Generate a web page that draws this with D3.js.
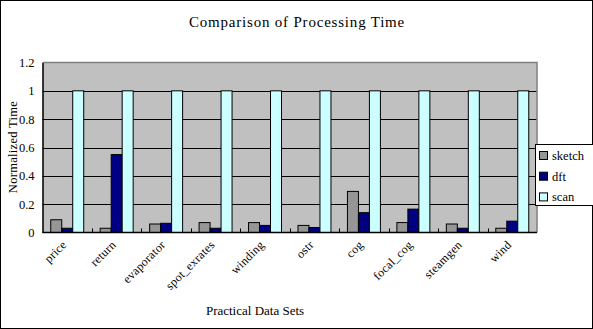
<!DOCTYPE html>
<html>
<head>
<meta charset="utf-8">
<script src="https://cdn.jsdelivr.net/npm/d3@7"></script>
<style>
  html, body { margin: 0; padding: 0; background: #fff; }
  svg { display: block; }
  text { font-family: "Liberation Serif", "Times New Roman", serif; fill: #000; }
</style>
</head>
<body>
<svg id="chart" width="593" height="329"></svg>
<script>
// Data sets and normalized processing times
const categories = ["price", "return", "evaporator", "spot_exrates", "winding", "ostr", "cog", "focal_cog", "steamgen", "wind"];
const seriesNames = ["sketch", "dft", "scan"];
const sketchValues = [0.09, 0.03, 0.06, 0.07, 0.07, 0.05, 0.29, 0.07, 0.06, 0.03];
const dftValues = [0.03, 0.55, 0.065, 0.03, 0.05, 0.035, 0.14, 0.165, 0.03, 0.08];
const scanValues = [1, 1, 1, 1, 1, 1, 1, 1, 1, 1];
const yTicks = [0, 0.2, 0.4, 0.6, 0.8, 1, 1.2];

const colors = { sketch: "#969696", dft: "#000080", scan: "#CCFFFF" };
const seriesValues = { sketch: sketchValues, dft: dftValues, scan: scanValues };

const svg = d3.select("#chart");
const W = 593, H = 329;
const plot = { left: 42.5, right: 537, top: 62.5, bottom: 232.5 };

// Outer chart frame
svg.append("rect")
  .attr("x", 0.5).attr("y", 0.5)
  .attr("width", W - 1).attr("height", H - 1)
  .attr("fill", "#fff").attr("stroke", "#000").attr("stroke-width", 1);

const x = d3.scaleBand().domain(categories).range([plot.left, plot.right]).padding(0);
// 150% gap width between category groups
const barW = x.bandwidth() / 4.5;
const xInner = d3.scaleBand().domain(seriesNames)
  .range([0.75 * barW, 0.75 * barW + 3 * barW]).padding(0);
const y = d3.scaleLinear().domain([0, 1.2]).range([plot.bottom, plot.top]);

// Plot area background
svg.append("rect")
  .attr("x", plot.left).attr("y", plot.top)
  .attr("width", plot.right - plot.left).attr("height", plot.bottom - plot.top)
  .attr("fill", "#C0C0C0");

// Horizontal gridlines
svg.append("g")
  .selectAll("line")
  .data(yTicks.filter(t => t > 0 && t < 1.2))
  .join("line")
  .attr("x1", plot.left).attr("x2", plot.right)
  .attr("y1", d => Math.round(y(d)) + 0.5).attr("y2", d => Math.round(y(d)) + 0.5)
  .attr("stroke", "#000").attr("stroke-width", 1);

// Plot area outline (top and right)
svg.append("path")
  .attr("d", `M${plot.left},${plot.top}H${plot.right}V${plot.bottom}`)
  .attr("fill", "none").attr("stroke", "#808080").attr("stroke-width", 1.5);

// Bars
const groups = svg.append("g").selectAll("g")
  .data(categories)
  .join("g")
  .attr("transform", d => `translate(${x(d)},0)`);

groups.selectAll("rect")
  .data((c, i) => seriesNames.map(s => ({ s, v: seriesValues[s][i] })))
  .join("rect")
  .attr("x", d => xInner(d.s))
  .attr("y", d => y(d.v))
  .attr("width", xInner.bandwidth())
  .attr("height", d => y(0) - y(d.v))
  .attr("fill", d => colors[d.s])
  .attr("stroke", "#000").attr("stroke-width", 1);

// Y axis
const yAxis = d3.axisLeft(y).tickValues(yTicks).tickSize(0).tickPadding(8)
  .tickFormat(d => d === 0 ? "0" : d === 1 ? "1" : d3.format(".1f")(d));
const yg = svg.append("g").attr("transform", `translate(${plot.left},0)`).call(yAxis);
yg.select(".domain").attr("stroke", "#000").attr("stroke-width", 1.5);
yg.selectAll("text").attr("font-size", 12.5).attr("font-family", "Liberation Serif, serif");

// X axis with inward ticks at category boundaries
const xg = svg.append("g").attr("transform", `translate(0,${plot.bottom})`);
xg.append("line")
  .attr("x1", plot.left).attr("x2", plot.right)
  .attr("y1", 0).attr("y2", 0)
  .attr("stroke", "#000").attr("stroke-width", 1.5);
xg.selectAll("line.tick")
  .data(categories.slice(1))
  .join("line")
  .attr("class", "tick")
  .attr("x1", d => Math.round(x(d)) + 0.5).attr("x2", d => Math.round(x(d)) + 0.5)
  .attr("y1", 0).attr("y2", -4)
  .attr("stroke", "#000").attr("stroke-width", 1);

xg.selectAll("text.cat")
  .data(categories)
  .join("text")
  .attr("class", "cat")
  .attr("font-size", 12)
  .attr("letter-spacing", 0.3)
  .attr("text-anchor", "end")
  .attr("transform", d => `translate(${x(d) + x.bandwidth() / 2},${13}) rotate(-45)`)
  .text(d => d);

// Titles
svg.append("text")
  .attr("x", 297).attr("y", 27)
  .attr("text-anchor", "middle").attr("font-size", 15)
  .attr("letter-spacing", 0.8)
  .text("Comparison of Processing Time");

svg.append("text")
  .attr("x", 255).attr("y", 315)
  .attr("text-anchor", "middle").attr("font-size", 13)
  .text("Practical Data Sets");

svg.append("text")
  .attr("transform", `translate(17,147) rotate(-90)`)
  .attr("text-anchor", "middle").attr("font-size", 12.5)
  .attr("letter-spacing", 0.3)
  .text("Normalized Time");

// Legend
const lg = svg.append("g").attr("transform", "translate(535,144)");
lg.append("rect")
  .attr("x", 0.5).attr("y", 0.5).attr("width", 60).attr("height", 61)
  .attr("fill", "#fff").attr("stroke", "#000").attr("stroke-width", 1);
const items = lg.selectAll("g.item")
  .data(seriesNames)
  .join("g")
  .attr("class", "item")
  .attr("transform", (d, i) => `translate(0,${11.5 + i * 20.7})`);
items.append("rect")
  .attr("x", 4.5).attr("y", -4).attr("width", 8).attr("height", 8)
  .attr("fill", d => colors[d]).attr("stroke", "#000").attr("stroke-width", 1);
items.append("text")
  .attr("x", 17).attr("y", 4.5)
  .attr("font-size", 12.5)
  .text(d => d);
</script>
</body>
</html>
